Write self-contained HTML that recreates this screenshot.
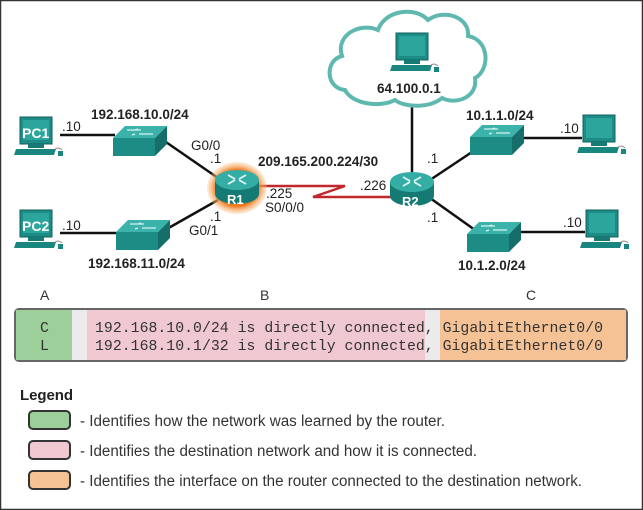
<!DOCTYPE html>
<html><head><meta charset="utf-8"><style>
html,body{margin:0;padding:0;background:#fff}
svg{display:block}
text{font-family:"Liberation Sans",Arial,sans-serif}
</style></head><body>
<svg width="643" height="510" viewBox="0 0 643 510" xmlns="http://www.w3.org/2000/svg">
<defs>
<radialGradient id="glow" cx="50%" cy="50%" r="50%">
<stop offset="70%" stop-color="#f07a20"/><stop offset="100%" stop-color="#f9c48a" stop-opacity="0.3"/>
</radialGradient>
<g id="pc">
<rect x="6" y="0" width="32" height="27" fill="#1e8c86" stroke="#0f5f5b" stroke-width="1"/>
<rect x="9" y="3" width="26" height="20" fill="#2ca59d"/>
<rect x="14" y="27" width="16" height="4" fill="#177a75"/>
<polygon points="2,32 42,32 40,38 0,38" fill="#1a8680"/>
<rect x="44" y="34" width="5" height="5" fill="#1a8680"/>
<path d="M40,33 q4,-4 8,0" stroke="#777" fill="none" stroke-width="0.8"/>
</g>
<g id="sw">
<polygon points="0,12 12,0 54,0 42,12" fill="#3cb3aa"/>
<polygon points="0,12 42,12 42,30 0,30" fill="#1d8c85"/>
<polygon points="42,12 54,0 54,18 42,30" fill="#156e69"/>
<path d="M14,4 h14 M26,8 h14 M22,4 l3,-1 M22,8 l-3,1" stroke="#d9f2ef" stroke-width="1.2"/>
</g>
<g id="rt">
<rect x="-22" y="-6" width="44" height="14" fill="#167a74"/>
<ellipse cx="0" cy="8" rx="22" ry="10" fill="#167a74"/>
<ellipse cx="0" cy="-6" rx="22" ry="10" fill="#34aea5"/>
<path d="M-9,-11 l7,4 M-9,-2 l7,-4 M9,-11 l-7,4 M9,-2 l-7,-4" stroke="#e6f7f5" stroke-width="1.6"/>
</g>
</defs>
<rect x="0.5" y="0.5" width="642" height="509" fill="#fff" stroke="#333" stroke-width="1.5"/>

<g stroke="#111" stroke-width="2.5">
<line x1="60" y1="135" x2="115" y2="135"/>
<line x1="163" y1="140" x2="218" y2="178"/>
<line x1="60" y1="233" x2="118" y2="233"/>
<line x1="165" y1="230" x2="218" y2="200"/>
<line x1="412" y1="103" x2="412" y2="175"/>
<line x1="430" y1="180" x2="472" y2="152"/>
<line x1="430" y1="198" x2="475" y2="230"/>
<line x1="515" y1="138" x2="582" y2="138"/>
<line x1="515" y1="232" x2="585" y2="232"/>
</g>
<polyline points="258,186 345,186 313,197 393,197" fill="none" stroke="#c0282e" stroke-width="2.5"/>

<path d="M345,90 C325,88 325,60 342,56 C335,35 360,22 378,30 C385,10 415,6 428,20 C445,8 470,18 468,36 C490,40 490,70 475,78 C478,98 455,105 442,98 C430,108 405,108 395,100 C380,108 352,104 345,90 Z" fill="#fff" stroke="#5fb8b0" stroke-width="4"/>
<use href="#pc" x="390" y="33"/>
<text x="377" y="93" font-size="13.5" font-weight="bold" fill="#222">64.100.0.1</text>

<use href="#pc" x="14" y="117"/>
<text x="22" y="138" font-size="14" font-weight="bold" fill="#fff">PC1</text>
<use href="#pc" x="14" y="210"/>
<text x="22" y="231" font-size="14" font-weight="bold" fill="#fff">PC2</text>
<use href="#pc" x="577" y="115"/>
<use href="#pc" x="580" y="210"/>

<use href="#sw" x="113" y="126"/>
<use href="#sw" x="116" y="220"/>
<use href="#sw" x="470" y="125"/>
<use href="#sw" x="467" y="222"/>

<ellipse cx="237" cy="188" rx="30" ry="26" fill="url(#glow)"/>
<use href="#rt" x="237" y="186"/>
<text x="227" y="204" font-size="13" font-weight="bold" fill="#fff">R1</text>
<use href="#rt" x="412" y="188"/>
<text x="402" y="206" font-size="13" font-weight="bold" fill="#fff">R2</text>

<g font-size="13.5" fill="#222">
<text x="91" y="119" font-weight="bold">192.168.10.0/24</text>
<text x="62" y="131">.10</text>
<text x="191" y="150">G0/0</text>
<text x="210" y="163">.1</text>
<text x="258" y="166" font-weight="bold">209.165.200.224/30</text>
<text x="266" y="198">.225</text>
<text x="265" y="212">S0/0/0</text>
<text x="360" y="190">.226</text>
<text x="210" y="221">.1</text>
<text x="189" y="235">G0/1</text>
<text x="62" y="230">.10</text>
<text x="88" y="268" font-weight="bold">192.168.11.0/24</text>
<text x="466" y="120" font-weight="bold">10.1.1.0/24</text>
<text x="427" y="163">.1</text>
<text x="427" y="222">.1</text>
<text x="560" y="133">.10</text>
<text x="563" y="227">.10</text>
<text x="458" y="270" font-weight="bold">10.1.2.0/24</text>
</g>

<g font-size="14" fill="#333">
<text x="40" y="300">A</text>
<text x="260" y="300">B</text>
<text x="526" y="300">C</text>
</g>

<rect x="15" y="309" width="612" height="52" rx="4" fill="#ebebeb" stroke="#666" stroke-width="2"/>
<rect x="16" y="310" width="56" height="50" fill="#9ccf9a"/>
<rect x="87" y="310" width="338" height="50" fill="#efc8d1"/>
<rect x="440" y="310" width="186" height="50" fill="#f5c296"/>
<g font-size="14.8" fill="#333">
<text x="40" y="332" style="font-family:'Liberation Mono',monospace">C</text>
<text x="40" y="350" style="font-family:'Liberation Mono',monospace">L</text>
<text x="95" y="332" textLength="508" style="font-family:'Liberation Mono',monospace">192.168.10.0/24 is directly connected, GigabitEthernet0/0</text>
<text x="95" y="350" textLength="508" style="font-family:'Liberation Mono',monospace">192.168.10.1/32 is directly connected, GigabitEthernet0/0</text>
</g>

<text x="20" y="400" font-size="15" font-weight="bold" fill="#222" textLength="53">Legend</text>
<rect x="29" y="411" width="41" height="18" rx="4" fill="#9ccf9a" stroke="#333" stroke-width="2"/>
<rect x="29" y="441" width="41" height="18" rx="4" fill="#efc8d1" stroke="#333" stroke-width="2"/>
<rect x="29" y="471" width="41" height="18" rx="4" fill="#f5c296" stroke="#333" stroke-width="2"/>
<g font-size="15.5" fill="#333">
<text x="80" y="426" textLength="365" lengthAdjust="spacingAndGlyphs">- Identifies how the network was learned by the router.</text>
<text x="80" y="456" textLength="397" lengthAdjust="spacingAndGlyphs">- Identifies the destination network and how it is connected.</text>
<text x="80" y="486" textLength="502" lengthAdjust="spacingAndGlyphs">- Identifies the interface on the router connected to the destination network.</text>
</g>
</svg>
</body></html>
